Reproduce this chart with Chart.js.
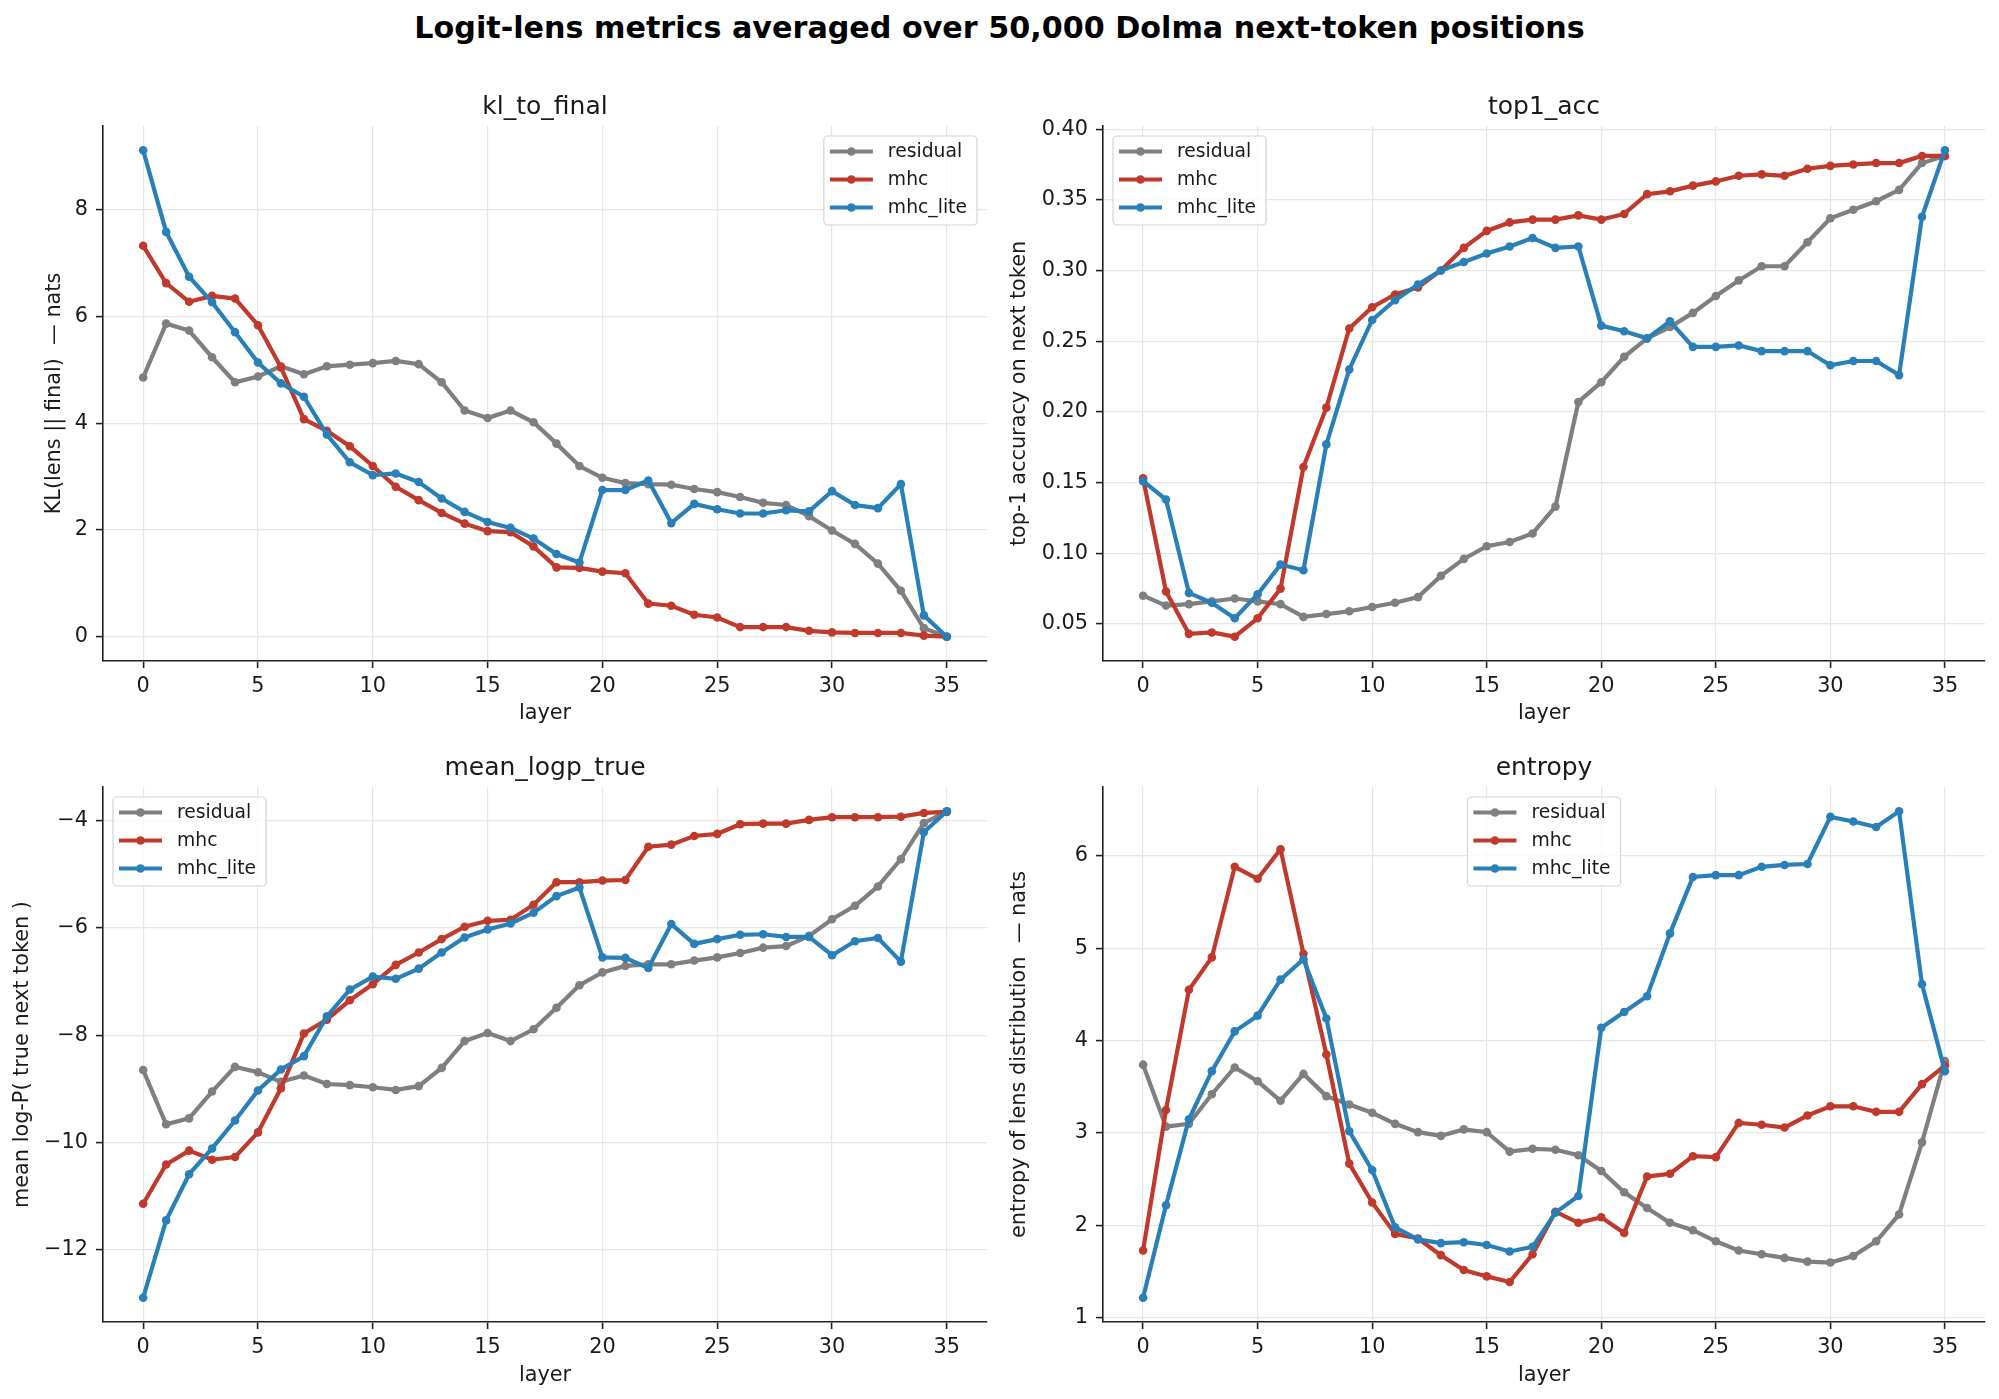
<!DOCTYPE html>
<html>
<head>
<meta charset="utf-8">
<script src="https://cdn.jsdelivr.net/npm/chart.js@4.4.1/dist/chart.umd.min.js"></script>
<style>
  html, body { margin: 0; padding: 0; background: #fff; overflow: hidden; }
  body { width: 1999px; height: 1399px; position: relative; font-family: 'DejaVu Sans', sans-serif; }
  #suptitle { position: absolute; left: 0; width: 1999px; top: 9px; line-height: 38px;
    text-align: center; font-weight: bold; font-size: 30.2px; color: #000; }
  .panel { position: absolute; }
</style>
</head>
<body>
<div id="suptitle">Logit-lens metrics averaged over 50,000 Dolma next-token positions</div>
<div class="panel" style="left:0;top:60px;width:1000px;height:680px"><canvas id="c1"></canvas></div>
<div class="panel" style="left:1000px;top:60px;width:999px;height:680px"><canvas id="c2"></canvas></div>
<div class="panel" style="left:0;top:740px;width:1000px;height:659px"><canvas id="c3"></canvas></div>
<div class="panel" style="left:1000px;top:740px;width:999px;height:659px"><canvas id="c4"></canvas></div>
<script>
const layers = [0, 1, 2, 3, 4, 5, 6, 7, 8, 9, 10, 11, 12, 13, 14, 15, 16, 17,
    18, 19, 20, 21, 22, 23, 24, 25, 26, 27, 28, 29, 30, 31, 32, 33, 34, 35];
const seriesNames = ['residual', 'mhc', 'mhc_lite'];
const xTicks = [0, 5, 10, 15, 20, 25, 30, 35];

// kl_to_final
const klResidual = [4.86, 5.87, 5.74, 5.24, 4.77, 4.88, 5.07, 4.92, 5.07, 5.10, 5.13, 5.17, 5.11, 4.77, 4.24, 4.10, 4.24, 4.02,
    3.62, 3.20, 2.98, 2.88, 2.86, 2.85, 2.77, 2.71, 2.62, 2.51, 2.47, 2.26, 1.99, 1.74, 1.37, 0.86, 0.16, 0.00];
const klMhc = [7.33, 6.63, 6.28, 6.39, 6.34, 5.84, 5.05, 4.08, 3.86, 3.57, 3.20, 2.81, 2.56, 2.32, 2.12, 1.98, 1.96, 1.69,
    1.30, 1.29, 1.22, 1.19, 0.62, 0.58, 0.41, 0.36, 0.18, 0.18, 0.18, 0.11, 0.08, 0.07, 0.07, 0.07, 0.02, 0.00];
const klMhcLite = [9.12, 7.59, 6.75, 6.27, 5.71, 5.14, 4.75, 4.50, 3.79, 3.27, 3.03, 3.06, 2.90, 2.59, 2.34, 2.15, 2.04, 1.84,
    1.55, 1.39, 2.75, 2.75, 2.93, 2.13, 2.49, 2.39, 2.31, 2.31, 2.37, 2.35, 2.73, 2.47, 2.41, 2.86, 0.40, 0.00];
const klTicks = [0, 2, 4, 6, 8];

// top1_acc
const accResidual = [0.070, 0.063, 0.064, 0.066, 0.068, 0.066, 0.064, 0.055, 0.057, 0.059, 0.062, 0.065, 0.069, 0.084, 0.096, 0.105, 0.108, 0.114,
    0.133, 0.207, 0.221, 0.239, 0.252, 0.260, 0.270, 0.282, 0.293, 0.303, 0.303, 0.320, 0.337, 0.343, 0.349, 0.357, 0.376, 0.381];
const accMhc = [0.153, 0.073, 0.043, 0.044, 0.041, 0.054, 0.075, 0.161, 0.203, 0.259, 0.274, 0.283, 0.288, 0.300, 0.316, 0.328, 0.334, 0.336,
    0.336, 0.339, 0.336, 0.340, 0.354, 0.356, 0.360, 0.363, 0.367, 0.368, 0.367, 0.372, 0.374, 0.375, 0.376, 0.376, 0.381, 0.381];
const accMhcLite = [0.151, 0.138, 0.072, 0.065, 0.054, 0.071, 0.092, 0.088, 0.177, 0.230, 0.265, 0.279, 0.290, 0.300, 0.306, 0.312, 0.317, 0.323,
    0.316, 0.317, 0.261, 0.257, 0.252, 0.264, 0.246, 0.246, 0.247, 0.243, 0.243, 0.243, 0.233, 0.236, 0.236, 0.226, 0.338, 0.385];
const accTicks = [0.05, 0.10, 0.15, 0.20, 0.25, 0.30, 0.35, 0.40];

// mean_logp_true
const logpResidual = [-8.65, -9.66, -9.55, -9.05, -8.59, -8.69, -8.87, -8.75, -8.91, -8.93, -8.97, -9.02, -8.95, -8.61, -8.11, -7.96, -8.11, -7.89,
    -7.49, -7.07, -6.83, -6.71, -6.68, -6.68, -6.61, -6.55, -6.47, -6.37, -6.34, -6.15, -5.84, -5.59, -5.23, -4.72, -4.05, -3.83];
const logpMhc = [-11.14, -10.41, -10.15, -10.32, -10.27, -9.81, -8.99, -7.97, -7.71, -7.35, -7.05, -6.69, -6.46, -6.21, -5.98, -5.87, -5.85, -5.57,
    -5.15, -5.15, -5.12, -5.11, -4.49, -4.45, -4.29, -4.25, -4.07, -4.06, -4.06, -3.99, -3.94, -3.94, -3.94, -3.93, -3.86, -3.84];
const logpMhcLite = [-12.89, -11.45, -10.59, -10.11, -9.59, -9.03, -8.64, -8.39, -7.65, -7.15, -6.91, -6.95, -6.76, -6.46, -6.18, -6.03, -5.92, -5.72,
    -5.41, -5.25, -6.55, -6.56, -6.75, -5.93, -6.30, -6.21, -6.13, -6.12, -6.17, -6.17, -6.51, -6.25, -6.19, -6.63, -4.22, -3.83];
const logpTicks = [-12, -10, -8, -6, -4];

// entropy
const entResidual = [3.74, 3.07, 3.10, 3.42, 3.71, 3.56, 3.35, 3.64, 3.40, 3.31, 3.22, 3.10, 3.01, 2.97, 3.04, 3.01, 2.80, 2.83,
    2.82, 2.76, 2.59, 2.36, 2.19, 2.03, 1.95, 1.83, 1.73, 1.69, 1.65, 1.61, 1.60, 1.67, 1.83, 2.12, 2.90, 3.78];
const entMhc = [1.73, 3.25, 4.55, 4.90, 5.88, 5.75, 6.07, 4.94, 3.85, 2.67, 2.25, 1.91, 1.86, 1.68, 1.52, 1.45, 1.39, 1.69,
    2.15, 2.03, 2.09, 1.92, 2.53, 2.56, 2.75, 2.74, 3.11, 3.09, 3.06, 3.19, 3.29, 3.29, 3.23, 3.23, 3.53, 3.73];
const entMhcLite = [1.22, 2.22, 3.15, 3.67, 4.10, 4.27, 4.66, 4.88, 4.24, 3.02, 2.60, 1.98, 1.85, 1.81, 1.82, 1.79, 1.72, 1.77,
    2.14, 2.32, 4.14, 4.31, 4.48, 5.16, 5.77, 5.79, 5.79, 5.88, 5.90, 5.91, 6.42, 6.37, 6.31, 6.48, 4.61, 3.67];
const entTicks = [1, 2, 3, 4, 5, 6];

const colors = ['#7f7f7f', '#c0392b', '#2980b9'];
const FONT = "'DejaVu Sans', sans-serif";
const TEXT = '#1a1a1a';

// subplot title + matplotlib-style legend inside the axes
const panelDeco = {
    id: 'panelDeco',
    afterDraw(chart, args, opts) {
        const {ctx, chartArea: a} = chart;
        ctx.save();
        ctx.fillStyle = TEXT;
        ctx.font = '25px ' + FONT;
        ctx.textAlign = 'center';
        ctx.textBaseline = 'alphabetic';
        ctx.fillText(opts.title, (a.left + a.right) / 2, a.top - 12.5);

        const sets = chart.data.datasets;
        ctx.font = '18.75px ' + FONT;
        const textW = Math.max(...sets.map(d => ctx.measureText(d.label).width));
        const w = 64 + textW + 10, h = 89;
        let x = a.left + 10;
        if (opts.legendAt === 'right') x = a.right - 10 - w;
        if (opts.legendAt === 'center') x = (a.left + a.right) / 2 - w / 2;
        const y = a.top + 10;
        ctx.beginPath();
        ctx.roundRect(x, y, w, h, 4);
        ctx.fillStyle = 'rgba(255,255,255,0.8)';
        ctx.fill();
        ctx.strokeStyle = '#d4d4d4';
        ctx.lineWidth = 1.2;
        ctx.stroke();
        sets.forEach((d, i) => {
            const cy = y + 15.5 + i * 28;
            ctx.strokeStyle = d.borderColor;
            ctx.lineWidth = 4.2;
            ctx.beginPath();
            ctx.moveTo(x + 6, cy);
            ctx.lineTo(x + 49, cy);
            ctx.stroke();
            ctx.fillStyle = d.borderColor;
            ctx.beginPath();
            ctx.arc(x + 27.5, cy, 4.3, 0, Math.PI * 2);
            ctx.fill();
            ctx.fillStyle = TEXT;
            ctx.textAlign = 'left';
            ctx.textBaseline = 'middle';
            ctx.fillText(d.label, x + 64, cy + 1);
        });
        ctx.restore();
    }
};

function fmt(v, dec) {
    const s = Math.abs(v).toFixed(dec);
    return v < 0 ? '\u2212' + s : s;
}

function makePanel(id, cfg) {
    const all = [].concat(...cfg.series);
    const lo = Math.min(...all), hi = Math.max(...all);
    const m = (hi - lo) * 0.05;
    const datasets = cfg.series.map((vals, i) => ({
        label: seriesNames[i],
        data: layers.map((l, k) => ({x: l, y: vals[k]})),
        borderColor: colors[i],
        backgroundColor: colors[i],
        pointBackgroundColor: colors[i],
        borderWidth: 4.2,
        pointRadius: 4.3,
        pointBorderWidth: 0,
        tension: 0,
        order: 2 - i,
    }));
    return new Chart(document.getElementById(id), {
        type: 'line',
        data: {datasets},
        plugins: [panelDeco],
        options: {
            responsive: true,
            maintainAspectRatio: false,
            animation: false,
            devicePixelRatio: 1,
            layout: {padding: cfg.pad},
            plugins: {
                legend: {display: false},
                tooltip: {enabled: false},
                panelDeco: {title: cfg.title, legendAt: cfg.legendAt},
            },
            scales: {
                x: {
                    type: 'linear',
                    min: -1.75,
                    max: 36.75,
                    afterBuildTicks: axis => { axis.ticks = xTicks.map(v => ({value: v})); },
                    afterFit: s => { s.height = 70; },
                    grid: {color: '#e6e6e6', lineWidth: 1.2, tickColor: '#222', tickWidth: 1.6, tickLength: 7},
                    border: {color: '#222', width: 1.6},
                    ticks: {color: TEXT, font: {family: FONT, size: 20.8}, padding: 6, maxRotation: 0,
                        callback: v => String(v)},
                    title: {display: true, text: 'layer', color: TEXT, font: {family: FONT, size: 20.8},
                        padding: {top: 0, bottom: cfg.xTitlePad}},
                },
                y: {
                    min: lo - m,
                    max: hi + m,
                    afterBuildTicks: axis => { axis.ticks = cfg.ticks.map(v => ({value: v})); },
                    afterFit: s => { s.width = 103; },
                    grid: {color: '#e6e6e6', lineWidth: 1.2, tickColor: '#222', tickWidth: 1.6, tickLength: 7},
                    border: {color: '#222', width: 1.6},
                    ticks: {color: TEXT, font: {family: FONT, size: 20.8}, padding: 8,
                        callback: v => fmt(v, cfg.dec)},
                    title: {display: true, text: cfg.yLabel, color: TEXT, font: {family: FONT, size: 20.8},
                        padding: {top: cfg.yTitlePad, bottom: 0}},
                },
            },
        },
    });
}

makePanel('c1', {
    title: 'kl_to_final', series: [klResidual, klMhc, klMhcLite], ticks: klTicks, dec: 0,
    yLabel: 'KL(lens || final)  \u2014 nats', legendAt: 'right',
    pad: {left: 0, right: 13, top: 66, bottom: 9}, xTitlePad: 4.5, yTitlePad: 42.5,
});
makePanel('c2', {
    title: 'top1_acc', series: [accResidual, accMhc, accMhcLite], ticks: accTicks, dec: 2,
    yLabel: 'top-1 accuracy on next token', legendAt: 'left',
    pad: {left: 0, right: 14, top: 66, bottom: 9}, xTitlePad: 4.5, yTitlePad: 7.5,
});
makePanel('c3', {
    title: 'mean_logp_true', series: [logpResidual, logpMhc, logpMhcLite], ticks: logpTicks, dec: 0,
    yLabel: 'mean log-P( true next token )', legendAt: 'left',
    pad: {left: 0, right: 13, top: 47, bottom: 7}, xTitlePad: 3.5, yTitlePad: 10.5,
});
makePanel('c4', {
    title: 'entropy', series: [entResidual, entMhc, entMhcLite], ticks: entTicks, dec: 0,
    yLabel: 'entropy of lens distribution  \u2014 nats', legendAt: 'center',
    pad: {left: 0, right: 14, top: 47, bottom: 7}, xTitlePad: 3.5, yTitlePad: 7.5,
});
</script>
</body>
</html>
